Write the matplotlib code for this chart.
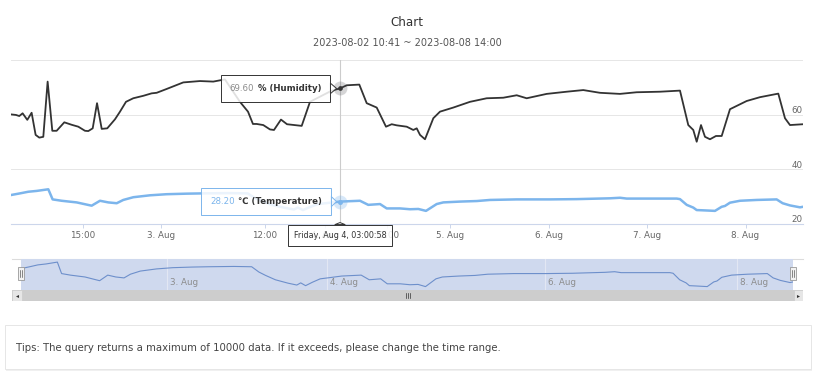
from datetime import datetime
import numpy as np
import matplotlib
matplotlib.use('Agg')
import matplotlib.pyplot as plt
from matplotlib.patches import Rectangle, FancyBboxPatch
from matplotlib.offsetbox import TextArea, HPacker, AnnotationBbox

plt.rcParams['font.family'] = ['DejaVu Sans', 'Noto Sans CJK SC']

TITLE = 'Chart'
RANGE_START = '2023-08-02 10:41'
RANGE_END = '2023-08-08 14:00'
HOVER_TIME = '2023-08-04 03:00:58'
TIPS = 'Tips: The query returns a maximum of 10000 data. If it exceeds, please change the time range.'

# times are hours since 2023-08-02 00:00
HUM_HOURS = [10.683, 10.98, 11.18, 11.38, 11.66, 11.92, 12.16, 12.38, 12.62, 12.88,
             13.16, 13.42, 13.88, 14.32, 14.72, 15.23, 15.61, 16.12, 16.62, 17.16,
             17.80, 18.69, 19.27, 19.96, 20.80, 21.96, 22.92, 23.50, 24.65, 25.61,
             26.57, 28.50, 30.03, 31.38, 33.11, 34.04, 34.61, 35.04, 35.80, 37.00,
             37.80, 39.20, 40.41, 43.35, 45.01, 49.36, 51.016, 52.30, 54.70, 56.11,
             58.02, 59.79, 60.88, 61.83, 63.74, 65.00, 65.65, 66.28, 67.23, 68.82,
             70.09, 72.80, 76.87, 80.94, 84.98, 88.25, 90.68, 95.55, 100.43, 104.47,
             108.53, 113.40, 117.47, 123.16, 128.03, 130.05, 131.27, 132.10, 133.15, 134.12,
             135.34, 136.80, 138.19, 140.21, 144.28, 147.52, 151.98, 153.61, 154.83, 158.0]
HUM_VALUES = [60.1, 59.9, 59.5, 60.5, 58.1, 60.7, 52.6, 51.6, 51.9, 72.1,
              54.1, 54.1, 57.2, 56.3, 55.6, 54.1, 54.0, 55.0, 64.2, 54.8,
              55.0, 58.3, 61.1, 64.7, 66.0, 66.9, 67.8, 68.0, 69.4, 70.6,
              71.8, 72.3, 72.1, 72.9, 64.7, 61.1, 56.6, 56.6, 56.2, 54.6,
              54.4, 58.2, 56.5, 55.9, 64.7, 68.8, 69.6, 70.75, 71.0, 64.2,
              62.6, 55.6, 56.5, 56.1, 55.6, 54.4, 55.0, 52.6, 51.0, 58.7,
              61.1, 62.6, 64.7, 66.0, 66.2, 67.1, 66.0, 67.6, 68.4, 69.0,
              68.0, 67.6, 68.2, 68.4, 68.8, 56.2, 54.4, 50.1, 56.2, 51.9,
              51.0, 52.2, 52.2, 62.0, 65.0, 66.4, 67.7, 58.7, 56.2, 56.5]

TEMP_HOURS = [10.683, 11.22, 11.72, 12.22, 12.92, 13.18, 13.72, 14.62, 16.00, 16.96,
              17.92, 18.89, 19.65, 20.81, 22.73, 24.66, 26.97, 28.88, 31.9, 34.0,
              34.85, 35.65, 37.4, 40.0, 41.8, 42.6, 43.6, 45.0, 46.6, 48.6,
              51.016, 54.83, 56.41, 58.65, 59.93, 62.46, 64.37, 65.96, 67.42, 69.46,
              70.72, 74.44, 78.51, 81.75, 88.25, 96.36, 102.87, 110.98, 113.42, 115.05,
              127.23, 128.03, 129.67, 131.27, 132.10, 133.71, 136.56, 138.19, 138.99, 140.21,
              142.65, 146.71, 151.58, 153.04, 154.83, 157.26, 158.0]
TEMP_VALUES = [30.6, 31.2, 31.8, 32.1, 32.7, 29.0, 28.5, 27.9, 26.7, 28.5,
               27.9, 27.6, 28.8, 29.8, 30.5, 30.9, 31.1, 31.2, 31.3, 31.2,
               29.5, 28.4, 27.0, 25.9, 25.3, 26.0, 25.1, 26.2, 27.3, 27.7,
               28.2, 28.5, 27.0, 27.3, 25.7, 25.7, 25.4, 25.5, 24.8, 27.3,
               27.9, 28.2, 28.4, 28.8, 29.0, 29.0, 29.1, 29.4, 29.6, 29.3,
               29.3, 29.1, 27.0, 26.0, 25.1, 25.0, 24.8, 26.3, 26.6, 27.8,
               28.5, 28.8, 29.0, 27.6, 26.8, 26.1, 26.3]

MAIN_TICKS = ['2023-08-02 15:00', '2023-08-03 00:00', '2023-08-03 12:00', '2023-08-04 00:00',
              '2023-08-04 12:00', '2023-08-05 00:00', '2023-08-06 00:00', '2023-08-07 00:00',
              '2023-08-08 00:00']
NAV_TICKS = ['2023-08-03 00:00', '2023-08-04 00:00', '2023-08-06 00:00', '2023-08-08 00:00']
Y_TICKS = [20, 40, 60, 80]
Y_LABELS = [20, 40, 60]

# highstock ordinal axis squeezes the x spacing, so hours -> position is piecewise
ORD_HOURS = [0, 10.683, 15, 36, 51.016, 72, 158, 200]
ORD_POS = [-0.225, 0, 0.0909, 0.3207, 0.4154, 0.5543, 1.0, 1.2177]

T0 = datetime(2023, 8, 2)


def hours(s):
    return (datetime.fromisoformat(s) - T0).total_seconds() / 3600


def to_ord(h):
    return np.interp(np.asarray(h, float), ORD_HOURS, ORD_POS)


def from_ord(p):
    return np.interp(np.asarray(p, float), ORD_POS, ORD_HOURS)


def tick_label(s):
    d = datetime.fromisoformat(s)
    if d.hour == 0 and d.minute == 0:
        return f'{d.day}. {d:%b}'
    return f'{d:%H:%M}'


W, H = 831, 371


def frame(x0, y0, x1, y1):
    return [x0 / W, 1 - y1 / H, (x1 - x0) / W, (y1 - y0) / H]


t_start, t_end = hours(RANGE_START), hours(RANGE_END)
hover_dt = datetime.fromisoformat(HOVER_TIME)
hover_h = hours(HOVER_TIME)
hum_now = float(np.interp(hover_h, HUM_HOURS, HUM_VALUES))
temp_now = float(np.interp(hover_h, TEMP_HOURS, TEMP_VALUES))

fig = plt.figure(figsize=(8.31, 3.71), dpi=100)
fig.patch.set_facecolor('white')

fig.text(407 / W, 1 - 22.5 / H, TITLE, ha='center', va='center', fontsize=8.6, color='#333333')
fig.text(407 / W, 1 - 43.5 / H, f'{RANGE_START} ~ {RANGE_END}', ha='center', va='center',
         fontsize=7, color='#555555')

# main chart
ax = fig.add_axes(frame(11, 60, 803, 224))
ax.set_xscale('function', functions=(to_ord, from_ord))
ax.plot(TEMP_HOURS, TEMP_VALUES, color='#7cb5ec', lw=1.8, zorder=3)
ax.plot(HUM_HOURS, HUM_VALUES, color='#333333', lw=1.3, zorder=3)
ax.set_xlim(t_start, t_end)
ax.set_ylim(20, 80)
ax.set_yticks(Y_TICKS)
ax.grid(axis='y', color='#e6e6e6', lw=0.7)
ax.set_axisbelow(True)
for side in ('top', 'left', 'right'):
    ax.spines[side].set_visible(False)
ax.spines['bottom'].set_color('#ccd6eb')
ax.spines['bottom'].set_linewidth(0.8)
ax.tick_params(axis='y', length=0, labelleft=False)
ax.set_xticks([hours(s) for s in MAIN_TICKS])
ax.set_xticklabels([tick_label(s) for s in MAIN_TICKS])
ax.xaxis.set_minor_locator(matplotlib.ticker.NullLocator())
ax.tick_params(axis='x', length=3, width=0.7, color='#ccd6eb', labelsize=6.3,
               labelcolor='#666666', pad=2.2)
for v in Y_LABELS:
    ax.annotate(str(v), xy=(1, v), xycoords=('axes fraction', 'data'), xytext=(0, -0.3),
                textcoords='offset points', ha='right', va='bottom', fontsize=6.3,
                color='#666666', annotation_clip=False)

# hover state
ax.axvline(hover_h, color='#cccccc', lw=0.8, zorder=2)
ax.plot([hover_h], [hum_now], 'o', ms=10, color='#434348', alpha=0.22, mec='none', zorder=4)
ax.plot([hover_h], [hum_now], 'o', ms=3.4, color='#333333', mec='none', zorder=5)
ax.plot([hover_h], [temp_now], 'o', ms=10, color='#7cb5ec', alpha=0.3, mec='none', zorder=4)
ax.plot([hover_h], [temp_now], 'o', ms=3.6, color='#7cb5ec', mec='none', zorder=5)


def tooltip(xy, xybox, parts, edge, coords='data', pad=1.0, size=6.2):
    kids = [TextArea(txt, textprops=dict(color=c, fontsize=size, fontweight=w))
            for txt, c, w in parts]
    packed = HPacker(children=kids, align='baseline', pad=0, sep=2.5)
    ab = AnnotationBbox(packed, xy, xybox=xybox, xycoords=coords, boxcoords='offset points',
                        box_alignment=(0.5, 0.5), pad=pad, fontsize=size,
                        bboxprops=dict(fc=(1, 1, 1, 0.85), ec=edge, lw=0.7),
                        arrowprops=dict(arrowstyle='wedge,tail_width=0.9', fc=(1, 1, 1, 0.85),
                                        ec=edge, lw=0.7, shrinkA=0, shrinkB=2.5),
                        zorder=10)
    ab.set_clip_on(False)
    ax.add_artist(ab)


tooltip((hover_h, hum_now), (-46.4, 0),
        [(f'{hum_now:.2f}', '#8c8c8c', 'normal'), ('% (Humidity)', '#333333', 'bold')], '#333333')
tooltip((hover_h, temp_now), (-53.3, 0),
        [(f'{temp_now:.2f}', '#7cb5ec', 'normal'), ('\u2103 (Temperature)', '#333333', 'bold')],
        '#7cb5ec')
date_txt = f'{hover_dt:%A}, {hover_dt:%b} {hover_dt.day}, {hover_dt:%H:%M:%S}'
tooltip((hover_h, 0.03), (0, -11.8), [(date_txt, '#333333', 'normal')], '#333333',
        coords=('data', 'axes fraction'), pad=0.75, size=5.8)

# navigator chrome: outline + scrollbar
ax_ch = fig.add_axes(frame(12, 259, 803, 301), zorder=0)
ax_ch.set_xlim(0, 1)
ax_ch.set_ylim(0, 1)
ax_ch.axis('off')
sb_h = 11 / 42
bw = 9.5 / 791
ax_ch.plot([0, 1], [1, 1], color='#dcdcdc', lw=0.8, clip_on=False)
ax_ch.add_patch(Rectangle((0, 0), 1, sb_h, fc='#cdcdcd', ec='none'))
ax_ch.add_patch(Rectangle((0, 0), bw, sb_h, fc='#e6e6e6', ec='#cccccc', lw=0.5))
ax_ch.add_patch(Rectangle((1 - bw, 0), bw, sb_h, fc='#e6e6e6', ec='#cccccc', lw=0.5))
ax_ch.plot([bw / 2], [sb_h / 2], marker='<', ms=2.2, color='#333333', mec='none')
ax_ch.plot([1 - bw / 2], [sb_h / 2], marker='>', ms=2.2, color='#333333', mec='none')
for dx in (-2, 0, 2):
    ax_ch.plot([0.5 + dx / 791] * 2, [sb_h * 0.3, sb_h * 0.72], color='#333333', lw=0.5)

# navigator
ax_nav = fig.add_axes(frame(21, 259, 793, 290), zorder=1)
ax_nav.set_xscale('function', functions=(to_ord, from_ord))
ax_nav.set_facecolor('#cfd9ee')
ax_nav.plot(TEMP_HOURS, TEMP_VALUES, color='#6d8fcb', lw=0.8)
ax_nav.set_xlim(t_start, t_end)
ax_nav.set_ylim(23.7, 33.7)
for side in ax_nav.spines.values():
    side.set_visible(False)
ax_nav.set_xticks([])
ax_nav.set_yticks([])
ax_nav.xaxis.set_minor_locator(matplotlib.ticker.NullLocator())
for s in NAV_TICKS:
    h = hours(s)
    ax_nav.axvline(h, color='#e2e7f3', lw=0.8, zorder=1)
    ax_nav.annotate(tick_label(s), xy=(h, 0.23), xycoords=('data', 'axes fraction'),
                    xytext=(2.2, 0), textcoords='offset points', ha='left', va='center',
                    fontsize=6.3, color='#8c8c8c')
for x in (0, 1):
    ax_nav.add_patch(Rectangle((x - 3 / 772, 0.32), 6 / 772, 0.42, transform=ax_nav.transAxes,
                               fc='#f2f2f2', ec='#999999', lw=0.6, clip_on=False, zorder=5))
    for dx in (-0.8, 0.8):
        ax_nav.plot([x + dx / 772] * 2, [0.42, 0.64], transform=ax_nav.transAxes,
                    color='#333333', lw=0.4, clip_on=False, zorder=6)

# tips box
fig.add_artist(FancyBboxPatch((6 / W, 1 - 370.5 / H), 806 / W, 44 / H, boxstyle='square,pad=0',
                              transform=fig.transFigure, fc='#f0f0f0', ec='none'))
fig.add_artist(FancyBboxPatch((5 / W, 1 - 369 / H), 806 / W, 44 / H, boxstyle='square,pad=0',
                              transform=fig.transFigure, fc='white', ec='#e6e6e6', lw=0.7))
fig.text(16 / W, 1 - 348 / H, TIPS, ha='left', va='center', fontsize=7.3, color='#444444')

fig.savefig('out.png', dpi=100)
